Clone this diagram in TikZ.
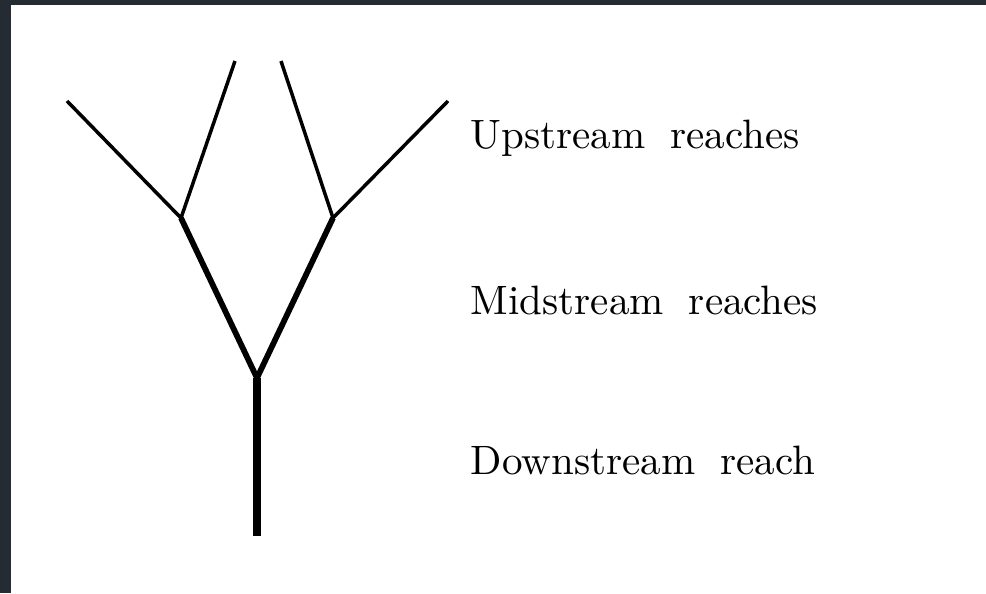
\documentclass[tikz,border=0pt]{standalone}
\usepackage{tikz}

\definecolor{frame}{HTML}{242B33}

\begin{document}
\begin{tikzpicture}[x=0.2436pt, y=-0.2436pt,
  reach/.style={anchor=west, inner sep=0pt, font={\spaceskip=6.1pt}}]

% page and frame
\fill[white] (0,0) rectangle (986,593);
\fill[frame] (0,0) rectangle (11,593);
\fill[frame] (0,0) rectangle (986,5);

% junctions
\coordinate (outlet) at (257,536);
\coordinate (fork) at (257,378);
\coordinate (left) at (181,218);
\coordinate (right) at (333,218);
\coordinate (ll) at (67,101);
\coordinate (lr) at (235,61);
\coordinate (rl) at (281,61);
\coordinate (rr) at (448,101);

% downstream
\draw[line width=1.95pt] (outlet) -- (fork);

% midstream
\draw[line width=1.4pt] (left) -- (fork) -- (right);

% upstream
\draw[line width=0.85pt] (ll) -- (left) -- (lr);
\draw[line width=0.85pt] (rl) -- (right) -- (rr);

% labels
\node[reach] (up) at (470,138) {Upstream reaches};
\node[reach] (mid) at (470,300) {Midstream reaches};
\node[reach] (down) at (470,460) {Downstream reach};

\end{tikzpicture}
\end{document}
